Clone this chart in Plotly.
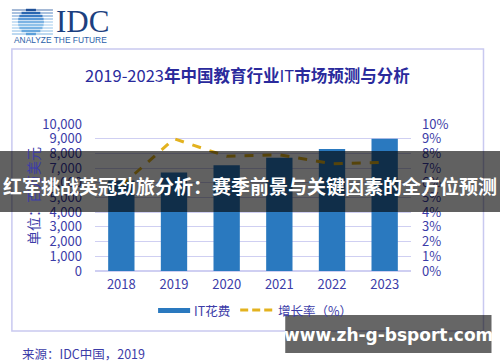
import plotly.graph_objects as go

years = ["2018", "2019", "2020", "2021", "2022", "2023"]
it_spend = [6150, 6700, 7200, 7700, 8300, 9000]
growth = [0.058, 0.090, 0.078, 0.079, 0.073, 0.074]

W, H = 500, 362
L, R, T, B = 95, 410.6, 124, 271  # plot area in px

def fx(px):
    return (px - L) / (R - L)

def fy(py):
    return (B - py) / (B - T)

TXT = "#3c3ca8"
GRID = "#cfcff2"
BAR = "#2a79bf"
LINE = "#e3b21f"
FONT = "Noto Sans CJK SC"

fig = go.Figure()
fig.add_trace(go.Bar(x=years, y=it_spend, marker=dict(color=BAR, line=dict(width=0)),
                     name="IT花费", yaxis="y"))
fig.add_trace(go.Scatter(x=years, y=growth, mode="lines", name="增长率（%）",
                         line=dict(color=LINE, width=3, dash="dash"), yaxis="y2"))

shapes = []
ann = []

# outer frame
shapes.append(dict(type="rect", xref="paper", yref="paper", x0=fx(12), x1=fx(483),
                   y0=fy(331), y1=fy(49), line=dict(color="#c9c9f0", width=1.5), layer="below"))

# IDC logo globe stripes
cx, cy, r = 31, 22, 13
stripe_y = [10, 13, 16, 19, 22, 25, 28, 31, 34]
stripe_c = ["#1d4f97", "#2a66b0", "#3b7cc4", "#5a98d6", "#7cb3e3", "#8fc2ea", "#7ab4e4", "#6aa8de", "#5c9fd9"]
for yy, cc in zip(stripe_y, stripe_c):
    dy = yy - cy
    hw = max(r * r - dy * dy, 0) ** 0.5
    shapes.append(dict(type="line", xref="paper", yref="paper", x0=fx(12), x1=fx(53),
                       y0=fy(yy), y1=fy(yy), line=dict(color=cc, width=0.8)))
    if hw > 0:
        shapes.append(dict(type="line", xref="paper", yref="paper", x0=fx(cx - hw), x1=fx(cx + hw),
                           y0=fy(yy), y1=fy(yy), line=dict(color=cc, width=2.4)))

ann.append(dict(text="IDC", x=fx(54), y=fy(21), xref="paper", yref="paper", xanchor="left",
                yanchor="middle", showarrow=False,
                font=dict(family="Liberation Serif", size=31, color="#1c3f7f")))
ann.append(dict(text="ANALYZE THE FUTURE", x=fx(12), y=fy(40), xref="paper", yref="paper",
                xanchor="left", yanchor="middle", showarrow=False,
                font=dict(family="Liberation Sans", size=8.4, color="#2a5ea8")))

# title
ann.append(dict(text="2019-2023<b>年中国教育行业</b>IT<b>市场预测与分析</b>", x=fx(247), y=fy(75),
                xref="paper", yref="paper", xanchor="center", yanchor="middle", showarrow=False,
                font=dict(family=FONT, size=16.5, color="#2a2a9c")))

# y-axis title
ann.append(dict(text="单位：百万美元", x=fx(33), y=fy(196), xref="paper", yref="paper",
                xanchor="center", yanchor="middle", showarrow=False, textangle=-90,
                font=dict(family=FONT, size=14, color=TXT)))

# manual legend
shapes.append(dict(type="rect", xref="paper", yref="paper", x0=fx(158), x1=fx(190),
                   y0=fy(313), y1=fy(308), fillcolor=BAR, line=dict(width=0)))
ann.append(dict(text="IT花费", x=fx(192), y=fy(310), xref="paper", yref="paper", xanchor="left",
                yanchor="middle", showarrow=False, font=dict(family=FONT, size=12.5, color=TXT)))
for x0 in (240, 252, 264):
    shapes.append(dict(type="line", xref="paper", yref="paper", x0=fx(x0), x1=fx(x0 + 8),
                       y0=fy(310), y1=fy(310), line=dict(color=LINE, width=3)))
ann.append(dict(text="增长率（%）", x=fx(276), y=fy(310), xref="paper", yref="paper",
                xanchor="left", yanchor="middle", showarrow=False,
                font=dict(family=FONT, size=12.5, color=TXT)))

# source
ann.append(dict(text="来源：IDC中国，2019", x=fx(20), y=fy(353), xref="paper", yref="paper",
                xanchor="left", yanchor="middle", showarrow=False,
                font=dict(family=FONT, size=12.5, color=TXT)))

# overlay banner
shapes.append(dict(type="rect", xref="paper", yref="paper", x0=fx(0), x1=fx(500),
                   y0=fy(212), y1=fy(151), fillcolor="rgba(0,0,0,0.62)", line=dict(width=0),
                   layer="above"))
ann.append(dict(text="<b>红军挑战英冠劲旅分析：赛季前景与关键因素的全方位预测</b>", x=fx(250), y=fy(185),
                xref="paper", yref="paper", xanchor="center", yanchor="middle", showarrow=False,
                font=dict(family=FONT, size=19, color="white")))

# bottom-right banner
shapes.append(dict(type="rect", xref="paper", yref="paper", x0=fx(285), x1=fx(491),
                   y0=fy(353), y1=fy(315), fillcolor="rgba(0,0,0,0.6)", line=dict(width=0),
                   layer="above"))
ann.append(dict(text="<b>www.zh-g-bsport.com</b>", x=fx(388), y=fy(335), xref="paper", yref="paper",
                xanchor="center", yanchor="middle", showarrow=False,
                font=dict(family="DejaVu Sans", size=17, color="white")))

fig.update_layout(
    width=W, height=H,
    margin=dict(l=L, r=W - R, t=T, b=H - B, pad=0),
    paper_bgcolor="white", plot_bgcolor="white",
    showlegend=False, bargap=0.5,
    font=dict(family=FONT, color=TXT, size=13),
    xaxis=dict(type="category", showgrid=False, showline=False, zeroline=False,
               ticks="", tickfont=dict(size=13, color=TXT), ticklabelstandoff=4),
    yaxis=dict(range=[0, 10000], dtick=1000, tickformat=",", showgrid=True, gridcolor=GRID,
               gridwidth=1, zeroline=True, zerolinecolor=GRID, showline=False, ticks="",
               ticklabelstandoff=12, tickfont=dict(size=13, color=TXT)),
    yaxis2=dict(range=[0, 0.10], dtick=0.01, tickformat=".0%", overlaying="y", side="right",
                showgrid=False, zeroline=False, showline=False, ticks="", ticklabelstandoff=10,
                tickfont=dict(size=13, color=TXT)),
    shapes=shapes, annotations=ann,
)

fig.write_html("out.html", config={"displayModeBar": False},
               post_script="document.body.style.margin='0';document.body.style.overflow='hidden';")
